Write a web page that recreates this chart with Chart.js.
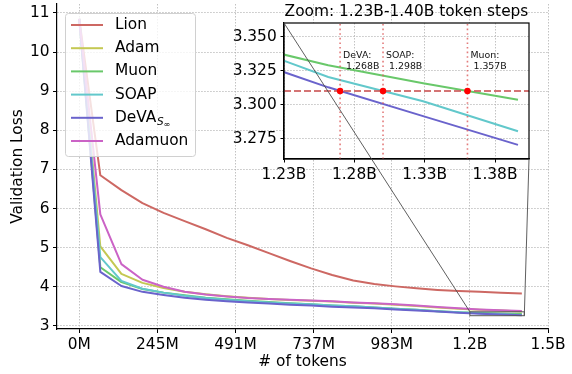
<!DOCTYPE html>
<html>
<head>
<meta charset="utf-8">
<script src="https://cdn.jsdelivr.net/npm/chart.js@4.4.1/dist/chart.umd.min.js"></script>
<style>
  html, body { margin: 0; padding: 0; background: #fff; }
  #wrap { position: relative; width: 572px; height: 374px; }
  #wrap canvas { position: absolute; left: 0; top: 0; }
</style>
</head>
<body>
<div id="wrap">
  <canvas id="main" width="572" height="374"></canvas>
  <canvas id="zoom" width="572" height="374"></canvas>
</div>
<script>
// ---- data (tokens in millions) ----
const tokensM = [0, 66.3, 132.6, 198.9, 265.2, 331.5, 397.8, 464.1, 530.4, 596.7, 663.0,
                 729.3, 795.6, 861.9, 928.2, 994.5, 1060.8, 1127.1, 1193.4, 1259.7, 1326.0, 1392.3];

const lion    = [10.85, 6.85, 6.47, 6.14, 5.89, 5.68, 5.47, 5.25, 5.06, 4.86, 4.66,
                 4.47, 4.30, 4.16, 4.07, 4.01, 3.96, 3.92, 3.89, 3.87, 3.85, 3.83];
const adam    = [10.85, 5.03, 4.33, 4.10, 3.97, 3.87, 3.81, 3.76, 3.72, 3.69, 3.66,
                 3.64, 3.62, 3.59, 3.57, 3.54, 3.51, 3.47, 3.44, 3.41, 3.39, 3.37];
const muon    = [10.85, 4.50, 4.12, 3.94, 3.85, 3.78, 3.72, 3.68, 3.64, 3.61, 3.58,
                 3.55, 3.52, 3.50, 3.47, 3.44, 3.41, 3.375, 3.3456, 3.329, 3.3157, 3.3036];
const soap    = [10.85, 4.76, 4.15, 3.95, 3.85, 3.77, 3.71, 3.67, 3.63, 3.60, 3.57,
                 3.55, 3.52, 3.50, 3.47, 3.44, 3.41, 3.375, 3.346, 3.3203, 3.3025, 3.2804];
const deva    = [10.85, 4.38, 4.02, 3.87, 3.79, 3.72, 3.67, 3.63, 3.60, 3.57, 3.54,
                 3.52, 3.49, 3.47, 3.45, 3.42, 3.395, 3.365, 3.3367, 3.3127, 3.2915, 3.2704];
const adamuon = [10.85, 5.85, 4.58, 4.18, 4.00, 3.87, 3.80, 3.75, 3.71, 3.69, 3.67,
                 3.65, 3.63, 3.60, 3.58, 3.55, 3.52, 3.48, 3.45, 3.42, 3.40, 3.38];

const seriesNames  = ['Lion', 'Adam', 'Muon', 'SOAP', 'DeVA', 'Adamuon'];
const seriesValues = [lion, adam, muon, soap, deva, adamuon];
const seriesColors = ['#cd6863', '#c4c852', '#69c86a', '#62c8cb', '#6a63cc', '#cb63c6'];

// main axis ticks
const xTickValues = [0, 245.76, 491.52, 737.28, 983.04, 1228.8, 1474.56];
const xTickLabels = ['0M', '245M', '491M', '737M', '983M', '1.2B', '1.5B'];
const yTickValues = [3, 4, 5, 6, 7, 8, 9, 10, 11];

// zoomed window
const zoomSeries = ['Muon', 'SOAP', 'DeVA'];
const zoomXTickValues = [1228.8, 1277.952, 1327.104, 1376.256];
const zoomXTickLabels = ['1.23B', '1.28B', '1.33B', '1.38B'];
const zoomYTickValues = [3.275, 3.300, 3.325, 3.350];
const zoomYTickLabels = ['3.275', '3.300', '3.325', '3.350'];
const zoomXRange = [1228.8, 1400];
const zoomYRange = [3.26, 3.36];

// loss threshold and where each optimizer first reaches it
const threshold = 3.31;
const crossNames  = ['DeVA', 'SOAP', 'Muon'];
const crossTokensM = [1268, 1298, 1357];
const crossLabels = ['1.268B', '1.298B', '1.357B'];

// ---- styling ----
const FONT = 'DejaVu Sans';
const FS = 15.4;
Chart.defaults.font.family = FONT;
Chart.defaults.font.size = FS;
Chart.defaults.color = '#000';

const gridStyle = { color: '#b3b3b3', lineWidth: 0.8, tickLength: 4, tickColor: '#000', tickWidth: 1, tickBorderDash: [] };
const borderStyle = { display: true, color: '#000', width: 1.2, dash: [1.5, 1.5] };

const toPts = vals => tokensM.map((x, i) => ({ x: x, y: vals[i] }));

// fixed axis box sizes so the plot area sits exactly inside the padding
const fixWidth = w => s => { s.width = w; s.paddingTop = 0; s.paddingBottom = 0; };
const fixHeight = h => s => { s.height = h; s.paddingLeft = 0; s.paddingRight = 0; };

// rectangle marking the zoomed window on the main axes
const zoomBoxPlugin = {
  id: 'zoomBox',
  afterDatasetsDraw(chart) {
    const { ctx, scales: { x, y } } = chart;
    const x0 = x.getPixelForValue(zoomXRange[0]), x1 = x.getPixelForValue(zoomXRange[1]);
    const y0 = y.getPixelForValue(zoomYRange[1]), y1 = y.getPixelForValue(zoomYRange[0]);
    ctx.save();
    ctx.strokeStyle = '#555';
    ctx.lineWidth = 1;
    ctx.strokeRect(x0, y0, x1 - x0, y1 - y0);
    ctx.restore();
  }
};

// legend drawn inside the axes, semi-transparent frame
const innerLegendPlugin = {
  id: 'innerLegend',
  afterDraw(chart) {
    const { ctx, chartArea } = chart;
    const bx = chartArea.left + 8, by = chartArea.top + 9, bw = 130, bh = 143;
    ctx.save();
    ctx.beginPath();
    ctx.roundRect(bx + 0.5, by + 0.5, bw, bh, 3);
    ctx.fillStyle = 'rgba(255,255,255,0.8)';
    ctx.fill();
    ctx.strokeStyle = '#d0d0d0';
    ctx.lineWidth = 1;
    ctx.stroke();
    const rowH = 23.2;
    seriesNames.forEach((name, i) => {
      const cy = by + 12 + i * rowH;
      ctx.strokeStyle = seriesColors[i];
      ctx.lineWidth = 2;
      ctx.beginPath();
      ctx.moveTo(bx + 6, cy);
      ctx.lineTo(bx + 38, cy);
      ctx.stroke();
      ctx.fillStyle = '#000';
      ctx.textBaseline = 'middle';
      ctx.textAlign = 'left';
      ctx.font = FS + 'px "' + FONT + '"';
      ctx.fillText(name, bx + 50, cy);
      if (name === 'DeVA') {
        const w = ctx.measureText(name).width;
        ctx.font = 'italic 10.5px "' + FONT + '"';
        ctx.fillText('S', bx + 50 + w + 0.5, cy + 4.5);
        const ws = ctx.measureText('S').width;
        ctx.font = '8px "' + FONT + '"';
        ctx.fillText('\u221e', bx + 50 + w + 0.5 + ws, cy + 7);
      }
    });
    ctx.restore();
  }
};

const mainChart = new Chart(document.getElementById('main'), {
  type: 'line',
  data: {
    datasets: seriesNames.map((name, k) => ({
      label: name,
      data: toPts(seriesValues[k]),
      borderColor: seriesColors[k],
      borderWidth: 2,
      pointRadius: 0,
      tension: 0,
      fill: false,
      borderJoinStyle: 'round',
      order: seriesNames.length - k
    }))
  },
  options: {
    responsive: false,
    animation: false,
    devicePixelRatio: 1,
    layout: { padding: { left: 0, right: 24, top: 4, bottom: 0 } },
    plugins: { legend: { display: false }, tooltip: { enabled: false } },
    scales: {
      x: {
        type: 'linear', min: -70, max: 1474.56,
        afterBuildTicks: s => { s.ticks = xTickValues.map(v => ({ value: v })); },
        afterFit: fixHeight(45),
        ticks: { callback: (v, i) => xTickLabels[i], padding: 3, maxRotation: 0, autoSkip: false },
        grid: gridStyle,
        border: borderStyle,
        title: { display: true, text: '# of tokens', padding: { top: 0, bottom: 2.8 } }
      },
      y: {
        type: 'linear', min: 2.92, max: 11.23,
        afterBuildTicks: s => { s.ticks = yTickValues.map(v => ({ value: v })); },
        afterFit: fixWidth(57),
        ticks: { callback: v => String(v), padding: 3.5 },
        grid: gridStyle,
        border: borderStyle,
        title: { display: true, text: 'Validation Loss', padding: { top: 8.8, bottom: 0 } }
      }
    }
  },
  plugins: [zoomBoxPlugin, innerLegendPlugin]
});

// ---- zoomed inset ----
const insetBgPlugin = {
  id: 'insetBg',
  beforeDraw(chart) {
    const { ctx, chartArea: a } = chart;
    ctx.save();
    ctx.fillStyle = '#fff';
    ctx.fillRect(a.left, a.top, a.right - a.left, a.bottom - a.top);
    ctx.restore();
  }
};

const insetDecorPlugin = {
  id: 'insetDecor',
  afterDraw(chart) {
    const { ctx, chartArea: a, scales: { x, y } } = chart;
    ctx.save();
    // full frame
    ctx.strokeStyle = '#000';
    ctx.lineWidth = 1.2;
    ctx.strokeRect(a.left, a.top, a.right - a.left, a.bottom - a.top);
    // title
    ctx.fillStyle = '#000';
    ctx.font = FS + 'px "' + FONT + '"';
    ctx.textAlign = 'center';
    ctx.textBaseline = 'middle';
    ctx.fillText('Zoom: 1.23B-1.40B token steps', (a.left + a.right) / 2, a.top - 11);
    // crossing annotations
    ctx.font = '9.4px "' + FONT + '"';
    ctx.textAlign = 'left';
    ctx.fillStyle = '#111';
    crossNames.forEach((n, i) => {
      const tx = x.getPixelForValue(crossTokensM[i]) + 3;
      const ty = y.getPixelForValue(3.336);
      ctx.fillText(n + ':', tx, ty);
      ctx.fillText(' ' + crossLabels[i], tx, ty + 11);
    });
    // connectors to the marked window on the main axes
    const mx = mainChart.scales.x, my = mainChart.scales.y;
    ctx.strokeStyle = '#4d4d4d';
    ctx.lineWidth = 0.9;
    ctx.beginPath();
    ctx.moveTo(a.left, a.top);
    ctx.lineTo(mx.getPixelForValue(zoomXRange[0]), my.getPixelForValue(zoomYRange[1]));
    ctx.moveTo(a.right, a.bottom);
    ctx.lineTo(mx.getPixelForValue(zoomXRange[1]), my.getPixelForValue(zoomYRange[0]));
    ctx.stroke();
    ctx.restore();
  }
};

const zoomDatasets = [];
zoomSeries.forEach(name => {
  const k = seriesNames.indexOf(name);
  zoomDatasets.push({
    data: toPts(seriesValues[k]), borderColor: seriesColors[k], borderWidth: 2,
    pointRadius: 0, tension: 0, order: 3
  });
});
zoomDatasets.push({
  data: [{ x: zoomXRange[0], y: threshold }, { x: zoomXRange[1], y: threshold }],
  borderColor: 'rgba(205,92,92,0.85)', borderWidth: 2, borderDash: [7, 3],
  pointRadius: 0, order: 2
});
crossTokensM.forEach(c => {
  zoomDatasets.push({
    data: [{ x: c, y: zoomYRange[0] }, { x: c, y: zoomYRange[1] }],
    borderColor: 'rgba(220,90,90,0.8)', borderWidth: 1.6, borderDash: [1.6, 3],
    pointRadius: 0, order: 2
  });
});
zoomDatasets.push({
  data: crossTokensM.map(c => ({ x: c, y: threshold })),
  showLine: false, pointRadius: 3.2, pointBackgroundColor: '#ff0000',
  pointBorderColor: '#ff0000', pointBorderWidth: 0, order: 1
});

const zoomChart = new Chart(document.getElementById('zoom'), {
  type: 'line',
  data: { datasets: zoomDatasets },
  options: {
    responsive: false,
    animation: false,
    devicePixelRatio: 1,
    layout: { padding: { left: 0, right: 43, top: 23, bottom: 0 } },
    plugins: { legend: { display: false }, tooltip: { enabled: false } },
    scales: {
      x: {
        type: 'linear', min: zoomXRange[0], max: zoomXRange[1],
        afterBuildTicks: s => { s.ticks = zoomXTickValues.map(v => ({ value: v })); },
        afterFit: fixHeight(215),
        ticks: { callback: (v, i) => zoomXTickLabels[i], padding: 3, maxRotation: 0, autoSkip: false },
        grid: Object.assign({}, gridStyle, { tickLength: 3.5 }),
        border: borderStyle
      },
      y: {
        type: 'linear', min: zoomYRange[0], max: zoomYRange[1],
        afterBuildTicks: s => { s.ticks = zoomYTickValues.map(v => ({ value: v })); },
        afterFit: fixWidth(284),
        ticks: { callback: (v, i) => zoomYTickLabels[i], padding: 3.8 },
        grid: Object.assign({}, gridStyle, { tickLength: 3.5 }),
        border: borderStyle
      }
    }
  },
  plugins: [insetBgPlugin, insetDecorPlugin]
});
</script>
</body>
</html>
